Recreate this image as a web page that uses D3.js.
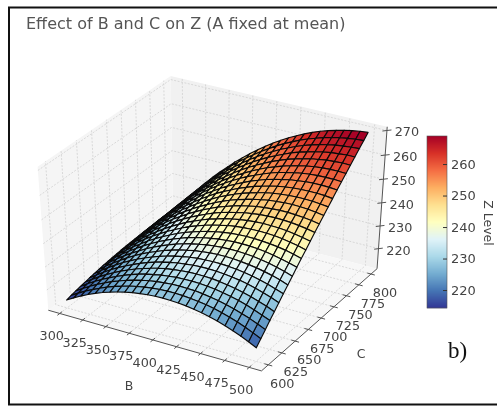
<!DOCTYPE html>
<html>
<head>
<meta charset="utf-8">
<script src="https://cdn.jsdelivr.net/npm/d3@7"></script>
<style>
html, body { margin: 0; padding: 0; background: #fff; overflow: hidden; }
svg { display: block; font-family: "DejaVu Sans", sans-serif; filter: blur(0.35px); }
</style>
</head>
<body>
<div id="chart"></div>
<script>
const svgWidth = 497;
const svgHeight = 407;

const bTicks = [300, 325, 350, 375, 400, 425, 450, 475, 500];
const cTicks = [600, 625, 650, 675, 700, 725, 750, 775, 800];
const zTicks = [220, 230, 240, 250, 260, 270];
const barTicks = [220, 230, 240, 250, 260];

//grid of the surface, one row per C value, one column per B value
const bValues = [300, 308, 316, 324, 332, 340, 348, 356, 364, 372, 380, 388, 396, 404, 412, 420, 428, 436, 444, 452, 460, 468, 476, 484, 492, 500];
const cValues = [600, 608, 616, 624, 632, 640, 648, 656, 664, 672, 680, 688, 696, 704, 712, 720, 728, 736, 744, 752, 760, 768, 776, 784, 792, 800];
const zValues = [
    [214.5, 216.4, 218.1, 219.7, 221.1, 222.4, 223.5, 224.5, 225.3, 226.0, 226.5, 226.9, 227.2, 227.3, 227.2, 227.0, 226.7, 226.2, 225.6, 224.8, 223.9, 222.8, 221.6, 220.2, 218.7, 217.0],
    [215.0, 216.9, 218.7, 220.3, 221.8, 223.2, 224.4, 225.4, 226.4, 227.1, 227.7, 228.2, 228.5, 228.7, 228.7, 228.6, 228.3, 227.9, 227.4, 226.7, 225.8, 224.8, 223.7, 222.4, 220.9, 219.3],
    [215.4, 217.4, 219.3, 221.0, 222.5, 224.0, 225.2, 226.4, 227.4, 228.2, 228.9, 229.4, 229.8, 230.1, 230.2, 230.1, 230.0, 229.6, 229.1, 228.5, 227.7, 226.8, 225.7, 224.5, 223.1, 221.6],
    [215.8, 217.9, 219.8, 221.6, 223.2, 224.7, 226.1, 227.3, 228.4, 229.3, 230.0, 230.7, 231.1, 231.5, 231.6, 231.7, 231.6, 231.3, 230.9, 230.3, 229.6, 228.8, 227.8, 226.6, 225.3, 223.9],
    [216.1, 218.3, 220.3, 222.2, 223.9, 225.5, 226.9, 228.2, 229.3, 230.3, 231.2, 231.9, 232.4, 232.8, 233.1, 233.2, 233.1, 233.0, 232.6, 232.1, 231.5, 230.7, 229.8, 228.7, 227.5, 226.1],
    [216.5, 218.7, 220.8, 222.8, 224.6, 226.2, 227.7, 229.1, 230.3, 231.4, 232.3, 233.1, 233.7, 234.1, 234.5, 234.7, 234.7, 234.6, 234.3, 233.9, 233.4, 232.7, 231.8, 230.8, 229.7, 228.4],
    [216.8, 219.1, 221.3, 223.3, 225.2, 226.9, 228.5, 229.9, 231.2, 232.4, 233.4, 234.2, 234.9, 235.5, 235.9, 236.1, 236.2, 236.2, 236.0, 235.7, 235.2, 234.6, 233.8, 232.9, 231.8, 230.6],
    [217.1, 219.5, 221.7, 223.8, 225.8, 227.6, 229.3, 230.8, 232.1, 233.4, 234.4, 235.4, 236.1, 236.8, 237.2, 237.6, 237.8, 237.8, 237.7, 237.4, 237.0, 236.5, 235.8, 235.0, 234.0, 232.8],
    [217.4, 219.8, 222.2, 224.3, 226.4, 228.2, 230.0, 231.6, 233.0, 234.3, 235.5, 236.5, 237.3, 238.0, 238.6, 239.0, 239.3, 239.4, 239.4, 239.2, 238.9, 238.4, 237.8, 237.0, 236.1, 235.0],
    [217.6, 220.2, 222.6, 224.8, 226.9, 228.9, 230.7, 232.4, 233.9, 235.3, 236.5, 237.6, 238.5, 239.3, 239.9, 240.4, 240.7, 241.0, 241.0, 240.9, 240.7, 240.3, 239.7, 239.0, 238.2, 237.2],
    [217.8, 220.5, 222.9, 225.3, 227.4, 229.5, 231.4, 233.1, 234.7, 236.2, 237.5, 238.6, 239.6, 240.5, 241.2, 241.8, 242.2, 242.5, 242.6, 242.6, 242.4, 242.1, 241.7, 241.1, 240.3, 239.4],
    [218.0, 220.7, 223.3, 225.7, 228.0, 230.1, 232.0, 233.9, 235.5, 237.1, 238.5, 239.7, 240.8, 241.7, 242.5, 243.2, 243.7, 244.0, 244.2, 244.3, 244.2, 244.0, 243.6, 243.0, 242.4, 241.5],
    [218.2, 221.0, 223.6, 226.1, 228.4, 230.6, 232.7, 234.6, 236.3, 238.0, 239.4, 240.7, 241.9, 242.9, 243.8, 244.5, 245.1, 245.5, 245.8, 246.0, 245.9, 245.8, 245.5, 245.0, 244.4, 243.7],
    [218.3, 221.2, 223.9, 226.5, 228.9, 231.2, 233.3, 235.3, 237.1, 238.8, 240.3, 241.7, 243.0, 244.1, 245.0, 245.8, 246.5, 247.0, 247.4, 247.6, 247.7, 247.6, 247.4, 247.0, 246.5, 245.8],
    [218.4, 221.4, 224.2, 226.8, 229.3, 231.7, 233.9, 235.9, 237.9, 239.6, 241.3, 242.7, 244.1, 245.2, 246.3, 247.1, 247.9, 248.5, 248.9, 249.2, 249.4, 249.4, 249.2, 248.9, 248.5, 247.9],
    [218.5, 221.6, 224.4, 227.2, 229.7, 232.2, 234.5, 236.6, 238.6, 240.4, 242.1, 243.7, 245.1, 246.4, 247.5, 248.4, 249.3, 249.9, 250.5, 250.8, 251.1, 251.2, 251.1, 250.9, 250.5, 250.0],
    [218.6, 221.7, 224.6, 227.5, 230.1, 232.6, 235.0, 237.2, 239.3, 241.2, 243.0, 244.7, 246.1, 247.5, 248.7, 249.7, 250.6, 251.4, 252.0, 252.4, 252.7, 252.9, 252.9, 252.8, 252.5, 252.1],
    [218.6, 221.8, 224.8, 227.7, 230.5, 233.1, 235.5, 237.8, 240.0, 242.0, 243.9, 245.6, 247.1, 248.6, 249.8, 251.0, 251.9, 252.8, 253.5, 254.0, 254.4, 254.6, 254.7, 254.7, 254.5, 254.1],
    [218.6, 221.9, 225.0, 228.0, 230.8, 233.5, 236.0, 238.4, 240.7, 242.7, 244.7, 246.5, 248.1, 249.6, 251.0, 252.2, 253.3, 254.2, 254.9, 255.6, 256.0, 256.4, 256.6, 256.6, 256.5, 256.2],
    [218.6, 222.0, 225.2, 228.2, 231.1, 233.9, 236.5, 239.0, 241.3, 243.5, 245.5, 247.4, 249.1, 250.7, 252.1, 253.4, 254.6, 255.6, 256.4, 257.1, 257.7, 258.1, 258.3, 258.4, 258.4, 258.2],
    [218.6, 222.0, 225.3, 228.4, 231.4, 234.3, 237.0, 239.5, 241.9, 244.2, 246.3, 248.2, 250.0, 251.7, 253.2, 254.6, 255.8, 256.9, 257.8, 258.6, 259.3, 259.8, 260.1, 260.3, 260.3, 260.2],
    [218.5, 222.0, 225.4, 228.6, 231.7, 234.6, 237.4, 240.0, 242.5, 244.8, 247.0, 249.1, 251.0, 252.7, 254.3, 255.8, 257.1, 258.3, 259.3, 260.1, 260.9, 261.4, 261.9, 262.1, 262.3, 262.2],
    [218.4, 222.0, 225.5, 228.8, 231.9, 234.9, 237.8, 240.5, 243.1, 245.5, 247.8, 249.9, 251.9, 253.7, 255.4, 256.9, 258.3, 259.6, 260.7, 261.6, 262.4, 263.1, 263.6, 263.9, 264.2, 264.2],
    [218.3, 222.0, 225.5, 228.9, 232.1, 235.2, 238.2, 241.0, 243.6, 246.1, 248.5, 250.7, 252.8, 254.7, 256.4, 258.1, 259.5, 260.9, 262.1, 263.1, 264.0, 264.7, 265.3, 265.7, 266.0, 266.2],
    [218.2, 221.9, 225.5, 229.0, 232.3, 235.5, 238.5, 241.4, 244.2, 246.8, 249.2, 251.5, 253.6, 255.6, 257.5, 259.2, 260.7, 262.2, 263.4, 264.5, 265.5, 266.3, 267.0, 267.5, 267.9, 268.1],
    [218.0, 221.9, 225.6, 229.1, 232.5, 235.8, 238.9, 241.8, 244.7, 247.3, 249.9, 252.2, 254.5, 256.6, 258.5, 260.3, 261.9, 263.4, 264.8, 266.0, 267.0, 267.9, 268.7, 269.3, 269.8, 270.1]
];

//limits of the 3d box and of the colour bar
const bLimits = [287.5, 512.5];
const cLimits = [587.5, 812.5];
const zLimits = [211, 271.5];
const barLimits = [214.3, 268.9];

//camera, close to the matplotlib mplot3d one
const elev = 38 * Math.PI / 180;
const azim = -60 * Math.PI / 180;
const dist = 10;

const bx = d3.scaleLinear().domain(bLimits).range([-0.5, 0.5]);
const cy = d3.scaleLinear().domain(cLimits).range([-0.5, 0.5]);
const zz = d3.scaleLinear().domain(zLimits).range([-0.5, 0.5]);

const screenX = d3.scaleLinear().domain([-1, 1]).range([215 - 248, 215 + 248]);
const screenY = d3.scaleLinear().domain([-1, 1]).range([220 + 181, 220 - 181]);

const colorRamp = d3.piecewise(d3.interpolateRgb, d3.schemeRdYlBu[11].slice().reverse());
const color = d3.scaleSequential(colorRamp).domain(barLimits).clamp(true);

//projects a data point, also gives its depth for the painter sort
const project = (b, c, z) => {
    const px = bx(b), py = cy(c), pz = zz(z);
    const xc = px * -Math.sin(azim) + py * Math.cos(azim);
    const yc = -px * Math.sin(elev) * Math.cos(azim) - py * Math.sin(elev) * Math.sin(azim) + pz * Math.cos(elev);
    const zc = px * Math.cos(elev) * Math.cos(azim) + py * Math.cos(elev) * Math.sin(azim) + pz * Math.sin(elev);
    const f = 1 / (1 - zc / dist);
    return { x: screenX(xc * f), y: screenY(yc * f), depth: zc };
};

const svg = d3.select('#chart')
    .append('svg')
    .attr('width', svgWidth)
    .attr('height', svgHeight);

const pathOf = pts => 'M' + pts.map(p => `${p.x},${p.y}`).join('L') + 'Z';
const lineOf = (g, a, b, cls) => g.append('line')
    .attr('class', cls)
    .attr('x1', a.x).attr('y1', a.y)
    .attr('x2', b.x).attr('y2', b.y);

//outer frame of the figure, its right side is outside the window
svg.append('rect')
    .attr('x', 9).attr('y', 7.5)
    .attr('width', 500).attr('height', 397)
    .attr('fill', '#fff')
    .attr('stroke', '#111')
    .attr('stroke-width', 2);

svg.append('text')
    .attr('x', 26).attr('y', 29)
    .attr('font-size', 16)
    .attr('fill', '#555')
    .text('Effect of B and C on Z (A fixed at mean)');

const [b0, b1] = bLimits;
const [c0, c1] = cLimits;
const [z0, z1] = zLimits;

//panes
const panes = svg.append('g').attr('class', 'panes');
[
    { fill: '#f5f5f5', pts: [[b0, c0, z0], [b0, c1, z0], [b0, c1, z1], [b0, c0, z1]] },
    { fill: '#f1f1f1', pts: [[b0, c1, z0], [b1, c1, z0], [b1, c1, z1], [b0, c1, z1]] },
    { fill: '#f7f7f7', pts: [[b0, c0, z0], [b1, c0, z0], [b1, c1, z0], [b0, c1, z0]] }
].forEach(p => {
    panes.append('path')
        .attr('d', pathOf(p.pts.map(d => project(...d))))
        .attr('fill', p.fill);
});

//grid lines on the panes
const grid = svg.append('g')
    .attr('fill', 'none')
    .attr('stroke', '#d0d0d0')
    .attr('stroke-width', 0.8)
    .attr('stroke-dasharray', '2,1.5');
const poly = pts => grid.append('path')
    .attr('d', 'M' + pts.map(d => { const p = project(...d); return `${p.x},${p.y}`; }).join('L'));
bTicks.forEach(b => poly([[b, c0, z0], [b, c1, z0], [b, c1, z1]]));
cTicks.forEach(c => poly([[b1, c, z0], [b0, c, z0], [b0, c, z1]]));
zTicks.forEach(z => poly([[b0, c0, z], [b0, c1, z], [b1, c1, z]]));

//axis lines, ticks and labels
const axes = svg.append('g')
    .attr('stroke', '#555')
    .attr('stroke-width', 1);
lineOf(axes, project(b0, c0, z0), project(b1, c0, z0));
lineOf(axes, project(b1, c0, z0), project(b1, c1, z0));
lineOf(axes, project(b1, c1, z0), project(b1, c1, z1));

const labels = svg.append('g')
    .attr('font-size', 12.8)
    .attr('fill', '#444')
    .attr('text-anchor', 'middle');

bTicks.forEach(b => {
    lineOf(axes, project(b, c0 + 4, z0), project(b, c0 - 4, z0));
    const p = project(b, c0, z0);
    labels.append('text').attr('x', p.x - 8).attr('y', p.y + 27).text(b);
});
cTicks.forEach(c => {
    lineOf(axes, project(b1 - 4, c, z0), project(b1 + 4, c, z0));
    const p = project(b1, c, z0);
    labels.append('text').attr('x', p.x + 14).attr('y', p.y + 23).text(c);
});
zTicks.forEach(z => {
    lineOf(axes, project(b1 - 3, c1 - 3, z), project(b1 + 3, c1 + 3, z));
    const p = project(b1, c1, z);
    labels.append('text').attr('x', p.x + 20).attr('y', p.y + 6).text(z);
});

labels.append('text').attr('x', 129).attr('y', 390).attr('font-size', 12.5).text('B');
labels.append('text').attr('x', 361).attr('y', 358).attr('font-size', 12.5).text('C');

//surface, far cells first
const cells = [];
for (let i = 0; i < cValues.length - 1; i++) {
    for (let j = 0; j < bValues.length - 1; j++) {
        const corners = [
            project(bValues[j], cValues[i], zValues[i][j]),
            project(bValues[j + 1], cValues[i], zValues[i][j + 1]),
            project(bValues[j + 1], cValues[i + 1], zValues[i + 1][j + 1]),
            project(bValues[j], cValues[i + 1], zValues[i + 1][j])
        ];
        cells.push({
            corners,
            value: d3.mean([zValues[i][j], zValues[i][j + 1], zValues[i + 1][j + 1], zValues[i + 1][j]]),
            depth: d3.mean(corners, d => d.depth)
        });
    }
}
cells.sort((a, b) => d3.ascending(a.depth, b.depth));

svg.append('g').attr('class', 'surface')
    .selectAll('path')
    .data(cells).enter()
    .append('path')
    .attr('d', d => pathOf(d.corners))
    .attr('fill', d => color(d.value))
    .attr('stroke', '#0a0a0a')
    .attr('stroke-width', 1.15)
    .attr('stroke-linejoin', 'round');

//colour bar
const barY = d3.scaleLinear().domain(barLimits).range([308, 136]);
const bar = svg.append('g').attr('class', 'colorbar');
bar.selectAll('rect')
    .data(d3.range(0, 172)).enter()
    .append('rect')
    .attr('x', 427)
    .attr('width', 20)
    .attr('y', d => 136 + d)
    .attr('height', 1.2)
    .attr('fill', d => color(barY.invert(136 + d + 0.5)));
bar.append('rect')
    .attr('x', 427).attr('y', 136)
    .attr('width', 20).attr('height', 172)
    .attr('fill', 'none')
    .attr('stroke', '#555')
    .attr('stroke-width', 0.6);

const barAxis = svg.append('g')
    .attr('transform', 'translate(447, 0)')
    .call(d3.axisRight(barY).tickValues(barTicks).tickSize(-4).tickPadding(4));
barAxis.select('.domain').remove();
barAxis.selectAll('line').attr('stroke', '#333');
barAxis.selectAll('text')
    .attr('font-family', '"DejaVu Sans", sans-serif')
    .attr('font-size', 13)
    .attr('fill', '#444');

svg.append('text')
    .attr('transform', 'translate(484, 223) rotate(90)')
    .attr('text-anchor', 'middle')
    .attr('font-size', 12.5)
    .attr('fill', '#444')
    .text('Z Level');

svg.append('text')
    .attr('x', 448).attr('y', 358)
    .attr('font-family', '"Liberation Serif", serif')
    .attr('font-size', 23)
    .attr('fill', '#111')
    .text('b)');
</script>
</body>
</html>
